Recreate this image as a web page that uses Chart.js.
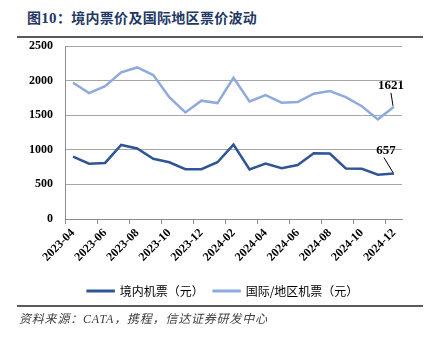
<!DOCTYPE html>
<html>
<head>
<meta charset="utf-8">
<script src="https://cdn.jsdelivr.net/npm/chart.js@4"></script>
<style>
  body { margin: 0; background: #fff; width: 432px; height: 342px; overflow: hidden; position: relative; }
  #title { position: absolute; left: 27px; top: 7px; font: bold 14px "Noto Sans CJK SC"; color: #1F3864; letter-spacing: 0.3px; white-space: nowrap; }
  #title .num { font-family: "Liberation Serif"; font-size: 15px; }
  .rule { position: absolute; left: 17px; width: 406px; height: 2px; background: #595959; }
  #source { position: absolute; left: 19px; top: 309px; font: italic 12px "Liberation Serif", "Noto Sans CJK SC"; color: #404040; letter-spacing: 0.8px; white-space: nowrap; }
  #wrap { position: absolute; left: 0; top: 0; width: 432px; height: 342px; }
</style>
</head>
<body>
<div id="title">图<span class="num">10</span>：境内票价及国际地区票价波动</div>
<div class="rule" style="top:36px"></div>
<div id="wrap"><canvas id="chart" width="432" height="342"></canvas></div>
<div class="rule" style="top:305px"></div>
<div id="source">资料来源：CATA，携程，信达证券研发中心</div>
<script>
let months = ["2023-04", "2023-05", "2023-06", "2023-07", "2023-08", "2023-09", "2023-10",
    "2023-11", "2023-12", "2024-01", "2024-02", "2024-03", "2024-04", "2024-05", "2024-06",
    "2024-07", "2024-08", "2024-09", "2024-10", "2024-11", "2024-12"];
let domestic = [900, 800, 810, 1070, 1020, 870, 820, 720, 720, 820, 1075, 715,
    800, 735, 780, 950, 945, 730, 725, 640, 657];
let intl = [1970, 1820, 1920, 2120, 2190, 2080, 1760, 1540, 1710, 1675, 2040, 1700,
    1790, 1680, 1690, 1810, 1850, 1760, 1630, 1440, 1621];
let yTicks = [0, 500, 1000, 1500, 2000, 2500];

// last value of each line, with a short leader line down to the point
const lastLabel = {
    id: "lastLabel",
    afterDatasetsDraw(chart) {
        let ctx = chart.ctx;
        let offsets = [{ dx: -8, dy: -23, lx: -10, ly: -16 }, { dx: -3, dy: -21, lx: -3, ly: -14 }];
        chart.data.datasets.forEach((ds, i) => {
            let meta = chart.getDatasetMeta(i);
            let pt = meta.data[meta.data.length - 1];
            let o = offsets[i];
            ctx.save();
            ctx.strokeStyle = "#000";
            ctx.lineWidth = 1;
            ctx.beginPath();
            ctx.moveTo(pt.x + o.lx, pt.y + o.ly);
            ctx.lineTo(pt.x - 1, pt.y - 1);
            ctx.stroke();
            ctx.fillStyle = "#000";
            ctx.font = "bold 13px 'Liberation Serif'";
            ctx.textAlign = "center";
            ctx.textBaseline = "middle";
            ctx.fillText(String(ds.data[ds.data.length - 1]), pt.x + o.dx, pt.y + o.dy);
            ctx.restore();
        });
    },
};

// legend sits centred on the page, not on the padded box
const shiftLegend = {
    id: "shiftLegend",
    afterLayout(chart) {
        chart.legend.left += 22;
        chart.legend.right += 22;
    },
};

let ctx = document.getElementById("chart");
let chart = new Chart(ctx, {
    type: "line",
    data: {
        labels: months,
        datasets: [{
                label: "境内机票（元）",
                data: domestic,
                borderColor: "#2F5597",
                backgroundColor: "#2F5597",
                borderWidth: 2.5,
                pointRadius: 0,
                tension: 0,
            },
            {
                label: "国际/地区机票（元）",
                data: intl,
                borderColor: "#8FAADC",
                backgroundColor: "#8FAADC",
                borderWidth: 2.5,
                pointRadius: 0,
                tension: 0,
            },
        ],
    },
    options: {
        responsive: false,
        animation: false,
        layout: { padding: { top: 46, right: 30, left: 0, bottom: 35 } },
        plugins: {
            legend: {
                position: "bottom",
                labels: {
                    boxWidth: 26,
                    boxHeight: 0.5,
                    padding: 10,
                    color: "#000",
                    font: { family: "Noto Sans CJK SC", size: 12 },
                },
            },
            tooltip: { enabled: false },
        },
        scales: {
            x: {
                offset: true,
                afterFit: (scale) => { scale.height = 56; },
                grid: {
                    offset: true,
                    drawOnChartArea: false,
                    tickLength: 5,
                    color: (c) => (c.index % 2 === 0 ? "#8C8C8C" : "rgba(0,0,0,0)"),
                },
                border: { color: "#8C8C8C", width: 1 },
                ticks: {
                    autoSkip: false,
                    minRotation: 45,
                    maxRotation: 45,
                    padding: 2,
                    color: "#000",
                    font: { family: "Liberation Serif", size: 12, weight: "bold" },
                    callback: function(v, i) { return i % 2 === 0 ? months[i] : ""; },
                },
            },
            y: {
                min: yTicks[0],
                max: yTicks[yTicks.length - 1],
                afterFit: (scale) => { scale.width = 65; },
                afterBuildTicks: (scale) => { scale.ticks = yTicks.map((v) => ({ value: v })); },
                grid: { color: "#A6A6A6", drawTicks: false },
                border: { color: "#8C8C8C", width: 1 },
                ticks: {
                    padding: 12,
                    color: "#000",
                    font: { family: "Liberation Serif", size: 12, weight: "bold" },
                    callback: (v) => String(v),
                },
            },
        },
    },
    plugins: [lastLabel, shiftLegend],
});
</script>
</body>
</html>
